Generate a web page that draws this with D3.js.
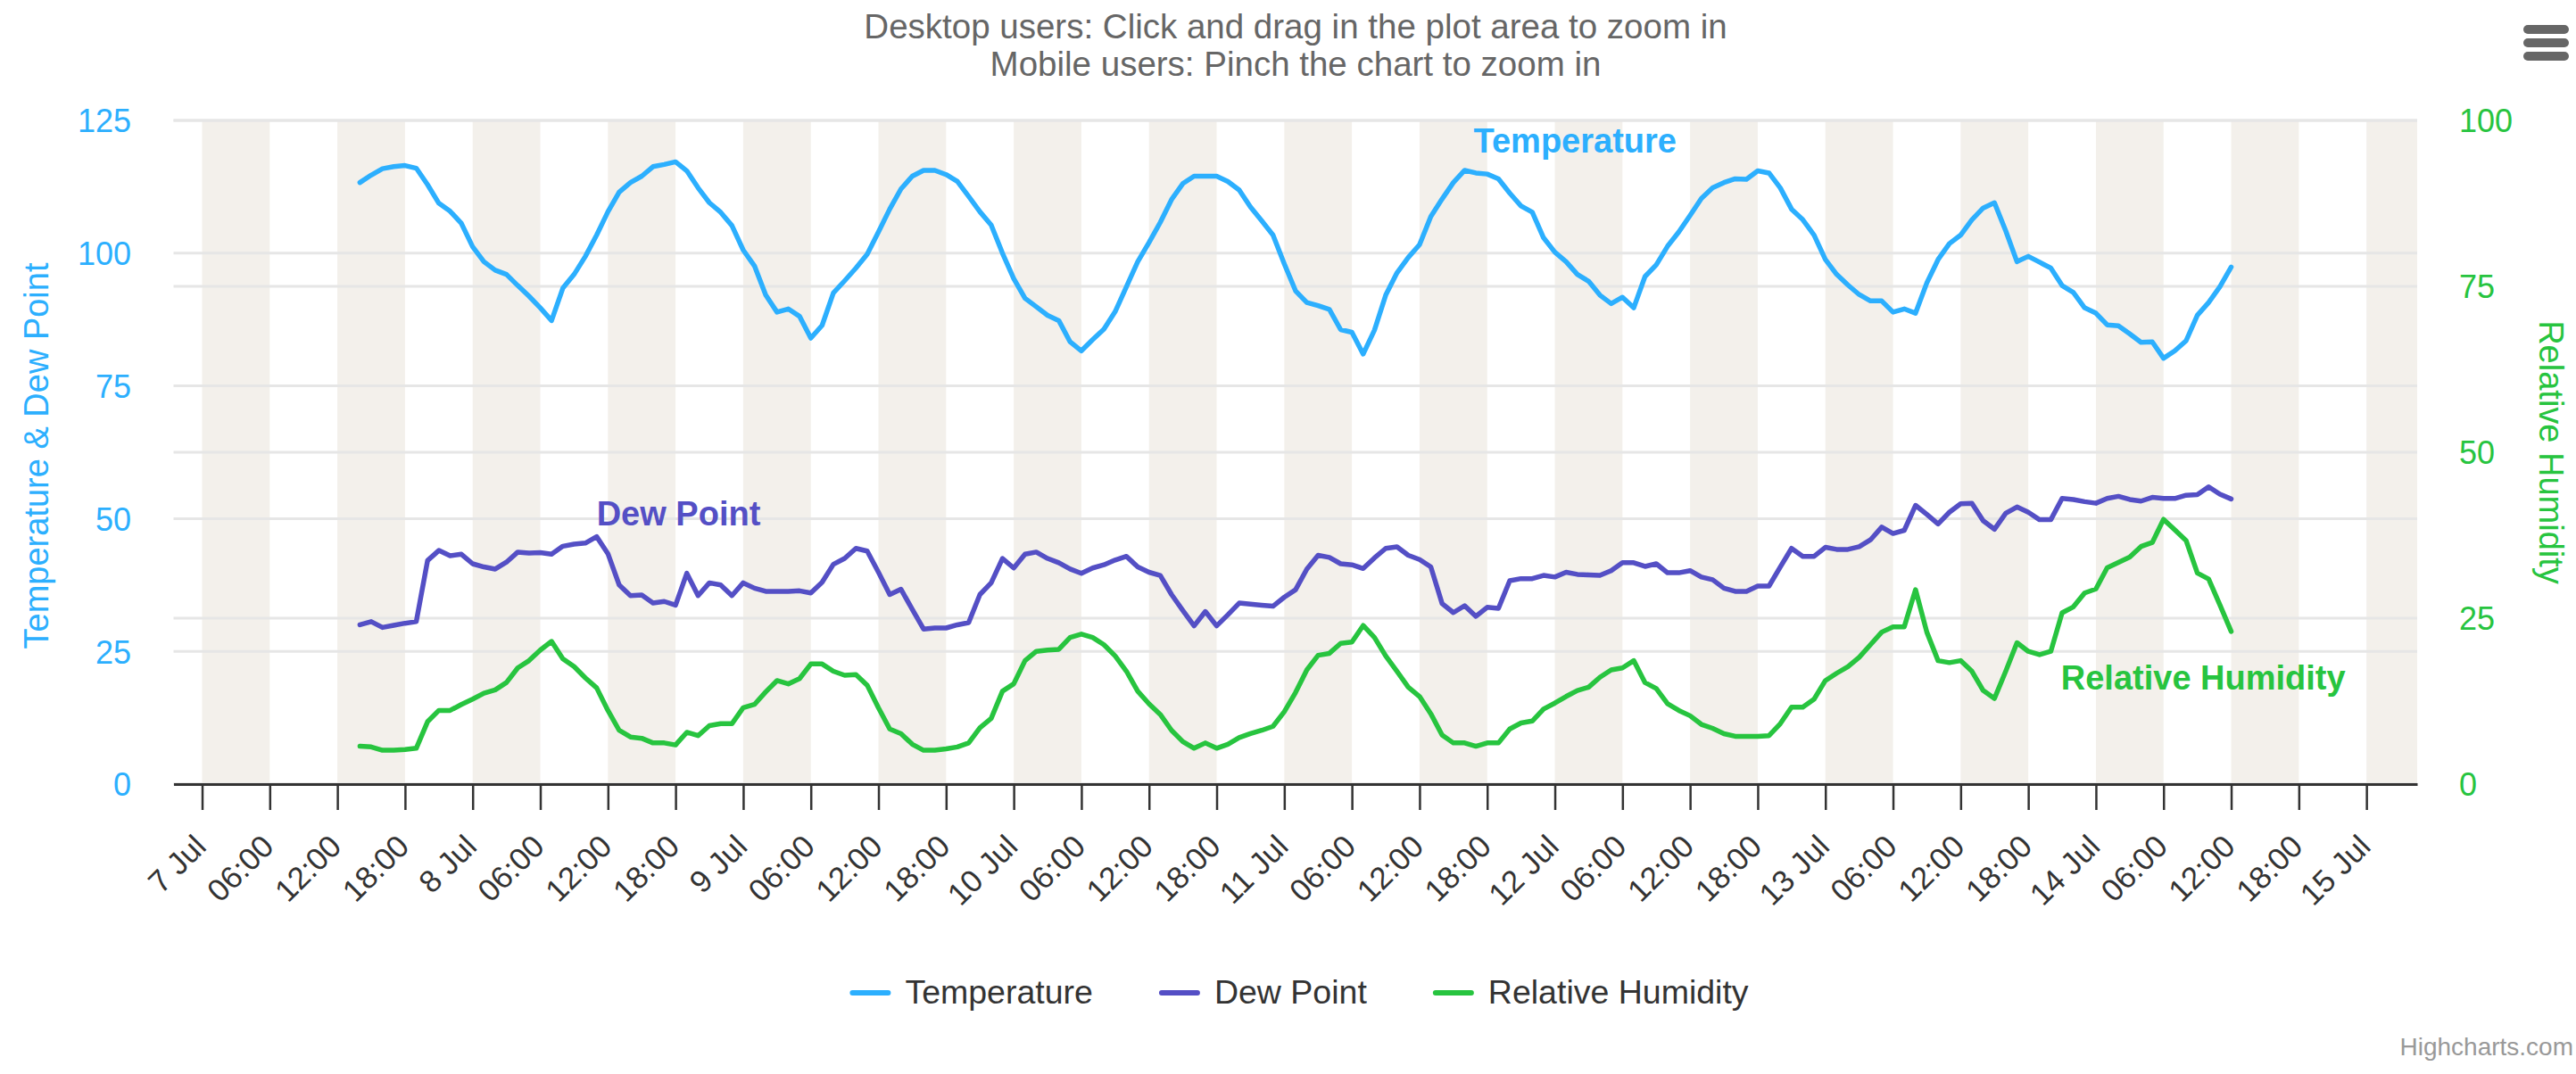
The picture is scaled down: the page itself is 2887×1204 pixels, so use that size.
<!DOCTYPE html>
<html>
<head>
<meta charset="utf-8">
<script src="https://cdn.jsdelivr.net/npm/d3@7"></script>
<style>
  html, body { margin: 0; padding: 0; background: #fff; }
  svg { display: block; font-family: "Liberation Sans", Arial, Helvetica, sans-serif; }
</style>
</head>
<body>
<svg id="chart" width="2887" height="1204"></svg>
<script>
// hourly readings, first one at 7 Jul 14:00
var startTime = Date.UTC(2024, 6, 7, 14);

var temperature = [
  113.3, 114.7, 115.9, 116.3, 116.5, 116.0, 112.9, 109.4, 107.9, 105.6,
  101.2, 98.4, 96.8, 96.0, 93.9, 91.9, 89.7, 87.3, 93.4, 96.0, 99.4, 103.4,
  107.8, 111.5, 113.3, 114.5, 116.3, 116.7, 117.2, 115.5, 112.3, 109.5, 107.7, 105.2,
  100.6, 97.6, 92.1, 88.9, 89.5, 88.1, 84.0, 86.4, 92.5, 94.8, 97.2, 99.8,
  104.0, 108.3, 112.1, 114.5, 115.6, 115.6, 114.8, 113.5, 110.7, 107.8, 105.3, 100.0,
  95.2, 91.5, 89.9, 88.3, 87.3, 83.3, 81.6, 83.7, 85.7, 89.0, 93.7, 98.4,
  102.0, 105.8, 110.1, 113.1, 114.5, 114.5, 114.5, 113.5, 111.9, 108.7, 106.1, 103.4,
  98.0, 92.9, 90.7, 90.1, 89.4, 85.6, 85.1, 81.0, 85.5, 92.1, 96.3, 99.2,
  101.6, 106.9, 110.2, 113.3, 115.6, 115.1, 114.9, 114.0, 111.3, 108.9, 107.7, 102.9,
  100.2, 98.4, 96.0, 94.7, 92.1, 90.5, 91.7, 89.7, 95.6, 97.8, 101.3, 104.0,
  107.1, 110.3, 112.3, 113.3, 114.0, 113.9, 115.5, 115.1, 112.3, 108.3, 106.3, 103.4,
  98.8, 96.0, 94.0, 92.2, 91.0, 91.0, 88.9, 89.5, 88.7, 94.4, 98.8, 101.8,
  103.4, 106.3, 108.5, 109.5, 104.2, 98.4, 99.4, 98.3, 97.2, 93.9, 92.6, 89.7,
  88.7, 86.5, 86.3, 84.8, 83.2, 83.3, 80.2, 81.6, 83.5, 88.3, 90.7, 93.7,
  97.4
];

var dewPoint = [
  30.0, 30.6, 29.5, 29.9, 30.3, 30.6, 42.1, 44.0, 43.0, 43.3,
  41.5, 40.9, 40.5, 41.8, 43.7, 43.5, 43.6, 43.3, 44.8, 45.2, 45.4, 46.6,
  43.4, 37.5, 35.5, 35.6, 34.1, 34.4, 33.7, 39.7, 35.5, 37.9, 37.5, 35.5,
  37.9, 36.9, 36.3, 36.3, 36.3, 36.4, 36.0, 38.0, 41.4, 42.5, 44.4, 43.9,
  39.9, 35.7, 36.7, 32.9, 29.2, 29.4, 29.4, 30.0, 30.4, 35.7, 37.9, 42.5,
  40.7, 43.3, 43.7, 42.5, 41.7, 40.5, 39.7, 40.7, 41.3, 42.2, 42.9, 40.9,
  39.9, 39.3, 35.7, 32.7, 29.8, 32.5, 29.8, 31.9, 34.1, 33.9, 33.7, 33.5,
  35.2, 36.6, 40.5, 43.1, 42.7, 41.5, 41.3, 40.6, 42.6, 44.4, 44.7, 43.1,
  42.3, 40.9, 34.0, 32.3, 33.6, 31.6, 33.3, 33.1, 38.3, 38.7, 38.7, 39.3,
  39.0, 39.9, 39.5, 39.4, 39.3, 40.2, 41.7, 41.7, 41.0, 41.5, 39.8, 39.8,
  40.2, 39.0, 38.5, 36.9, 36.3, 36.3, 37.3, 37.3, 40.9, 44.4, 42.9, 42.9,
  44.6, 44.2, 44.2, 44.7, 46.0, 48.4, 47.2, 47.8, 52.5, 50.8, 49.0, 51.2,
  52.8, 52.9, 49.6, 48.0, 51.0, 52.2, 51.2, 49.8, 49.8, 53.8, 53.6, 53.2,
  52.9, 53.8, 54.2, 53.6, 53.3, 54.0, 53.8, 53.8, 54.4, 54.5, 56.0, 54.6,
  53.7
];

var humidity = [
  5.7, 5.6, 5.1, 5.1, 5.2, 5.4, 9.4, 11.1, 11.1, 12.0,
  12.8, 13.7, 14.2, 15.3, 17.5, 18.6, 20.2, 21.5, 18.9, 17.7, 16.0, 14.5,
  11.1, 8.1, 7.1, 6.9, 6.2, 6.2, 5.9, 7.8, 7.3, 8.8, 9.1, 9.1,
  11.5, 12.0, 13.9, 15.6, 15.1, 15.9, 18.1, 18.1, 17.0, 16.4, 16.5, 14.9,
  11.5, 8.3, 7.6, 6.0, 5.1, 5.1, 5.3, 5.6, 6.2, 8.5, 9.9, 14.0,
  15.1, 18.6, 20.0, 20.2, 20.3, 22.1, 22.6, 22.1, 21.0, 19.3, 17.0, 14.0,
  12.1, 10.5, 8.1, 6.4, 5.4, 6.2, 5.4, 6.0, 7.0, 7.6, 8.1, 8.7,
  10.9, 13.8, 17.2, 19.4, 19.7, 21.2, 21.4, 23.9, 22.1, 19.3, 17.0, 14.6,
  13.2, 10.6, 7.4, 6.2, 6.2, 5.7, 6.2, 6.2, 8.3, 9.2, 9.5, 11.3,
  12.2, 13.2, 14.1, 14.6, 16.1, 17.2, 17.5, 18.6, 15.3, 14.4, 12.1, 11.1,
  10.3, 9.0, 8.4, 7.6, 7.2, 7.2, 7.2, 7.3, 9.1, 11.6, 11.6, 12.8,
  15.6, 16.7, 17.7, 19.1, 21.0, 22.9, 23.7, 23.7, 29.3, 22.9, 18.6, 18.3,
  18.6, 17.0, 14.1, 12.9, 17.0, 21.3, 20.0, 19.5, 20.0, 25.8, 26.7, 28.8,
  29.4, 32.6, 33.4, 34.2, 35.8, 36.4, 39.9, 38.3, 36.7, 31.8, 30.9, 27.0,
  23.0
];

var seriesNames = ["Temperature", "Dew Point", "Relative Humidity"];
var leftTicks = [0, 25, 50, 75, 100, 125];
var rightTicks = [0, 25, 50, 75, 100];
var leftTitle = "Temperature & Dew Point";
var rightTitle = "Relative Humidity";
var subtitle = [
  "Desktop users: Click and drag in the plot area to zoom in",
  "Mobile users: Pinch the chart to zoom in"
];
var credits = "Highcharts.com";

var colors = ["#2caffe", "#544fc5", "#27c43f"];
var plot = { left: 194.5, right: 2709, top: 135, bottom: 879 };

var svg = d3.select("#chart");

var x = d3.scaleUtc()
  .domain([Date.UTC(2024, 6, 6, 21, 28), Date.UTC(2024, 6, 15, 4, 30)])
  .range([plot.left, plot.right]);
var yLeft = d3.scaleLinear().domain([0, 125]).range([plot.bottom, plot.top]);
var yRight = d3.scaleLinear().domain([0, 100]).range([plot.bottom, plot.top]);

var timeAt = function (i) {
  return new Date(startTime + i * 3600 * 1000);
};

// night / midday bands, 6 hours every 12 hours
var bandStarts = d3.utcHour.every(12).range(x.domain()[0], x.domain()[1]);
svg.append("g")
  .selectAll("rect")
  .data(bandStarts)
  .enter()
  .append("rect")
  .attr("x", function (d) { return x(d); })
  .attr("y", plot.top)
  .attr("width", function (d) {
    var end = Math.min(x(d3.utcHour.offset(d, 6)), plot.right);
    return end - x(d);
  })
  .attr("height", plot.bottom - plot.top)
  .attr("fill", "#f3f0eb");

// grid lines from both y axes
var grid = svg.append("g").attr("stroke", "#e6e6e6").attr("stroke-width", 3);
leftTicks.forEach(function (v) {
  grid.append("line")
    .attr("x1", plot.left).attr("x2", plot.right)
    .attr("y1", yLeft(v)).attr("y2", yLeft(v));
});
rightTicks.forEach(function (v) {
  grid.append("line")
    .attr("x1", plot.left).attr("x2", plot.right)
    .attr("y1", yRight(v)).attr("y2", yRight(v));
});

// x axis
var xAxis = d3.axisBottom(x)
  .ticks(d3.utcHour.every(6))
  .tickSize(29)
  .tickSizeOuter(0)
  .tickFormat(function (d) {
    return d.getUTCHours() === 0 ? d3.utcFormat("%-d %b")(d) : d3.utcFormat("%H:%M")(d);
  });

var gx = svg.append("g")
  .attr("transform", "translate(0," + plot.bottom + ")")
  .call(xAxis);
gx.select(".domain").attr("stroke", "#333333").attr("stroke-width", 3);
gx.selectAll(".tick line").attr("stroke", "#333333").attr("stroke-width", 2.5);
gx.selectAll(".tick text")
  .attr("x", 0)
  .attr("y", 0)
  .attr("dy", null)
  .attr("text-anchor", "end")
  .attr("transform", "translate(6,72) rotate(-45)")
  .attr("fill", "#333333")
  .style("font-size", "35px");

// left axis
var gl = svg.append("g")
  .attr("transform", "translate(147,0)")
  .call(d3.axisLeft(yLeft).tickValues(leftTicks).tickSize(0).tickPadding(0));
gl.select(".domain").remove();
gl.selectAll(".tick text")
  .attr("fill", colors[0])
  .attr("dy", "0.36em")
  .style("font-size", "36px");

// right axis
var gr = svg.append("g")
  .attr("transform", "translate(2756,0)")
  .call(d3.axisRight(yRight).tickValues(rightTicks).tickSize(0).tickPadding(0));
gr.select(".domain").remove();
gr.selectAll(".tick text")
  .attr("fill", colors[2])
  .attr("dy", "0.36em")
  .style("font-size", "36px");

// axis titles
svg.append("text")
  .attr("transform", "translate(54," + ((plot.top + plot.bottom) / 2 + 4) + ") rotate(-90)")
  .attr("text-anchor", "middle")
  .attr("fill", colors[0])
  .style("font-size", "38px")
  .text(leftTitle);

svg.append("text")
  .attr("transform", "translate(2846," + (plot.top + plot.bottom) / 2 + ") rotate(90)")
  .attr("text-anchor", "middle")
  .attr("fill", colors[2])
  .style("font-size", "38px")
  .text(rightTitle);

// series
var series = [
  { name: seriesNames[0], values: temperature, y: yLeft, color: colors[0] },
  { name: seriesNames[1], values: dewPoint, y: yLeft, color: colors[1] },
  { name: seriesNames[2], values: humidity, y: yRight, color: colors[2] }
];

series.forEach(function (s) {
  var line = d3.line()
    .x(function (d, i) { return x(timeAt(i)); })
    .y(function (d) { return s.y(d); });
  svg.append("path")
    .datum(s.values)
    .attr("d", line)
    .attr("fill", "none")
    .attr("stroke", s.color)
    .attr("stroke-width", 5.5)
    .attr("stroke-linejoin", "round")
    .attr("stroke-linecap", "round");
});

// series labels, placed in data space next to their lines
var labelAt = [
  [Date.UTC(2024, 6, 11, 16, 48), 118.9],
  [Date.UTC(2024, 6, 8, 11, 0), 48.8],
  [Date.UTC(2024, 6, 13, 20, 54), 14.25]
];
series.forEach(function (s, i) {
  svg.append("text")
    .attr("x", x(labelAt[i][0]))
    .attr("y", s.y(labelAt[i][1]))
    .attr("fill", s.color)
    .style("font-size", "38px")
    .style("font-weight", "bold")
    .text(s.name);
});

// subtitle
svg.append("g")
  .selectAll("text")
  .data(subtitle)
  .enter()
  .append("text")
  .attr("x", 1452)
  .attr("y", function (d, i) { return 43 + i * 42; })
  .attr("text-anchor", "middle")
  .attr("fill", "#666666")
  .style("font-size", "38.5px")
  .text(function (d) { return d; });

// legend
var legend = svg.append("g");
var cursor = 0;
series.forEach(function (s) {
  var item = legend.append("g").attr("transform", "translate(" + cursor + ",0)");
  item.append("line")
    .attr("x1", 3).attr("x2", 43)
    .attr("y1", 1113).attr("y2", 1113)
    .attr("stroke", s.color)
    .attr("stroke-width", 6)
    .attr("stroke-linecap", "round");
  var t = item.append("text")
    .attr("x", 62)
    .attr("y", 1125)
    .attr("fill", "#333333")
    .style("font-size", "37.5px")
    .text(s.name);
  cursor += 62 + t.node().getComputedTextLength() + 74;
});
var legendWidth = cursor - 74;
legend.attr("transform", "translate(" + (1456 - legendWidth / 2) + ",0)");

// exporting menu button
svg.append("g")
  .attr("fill", "#666666")
  .selectAll("rect")
  .data([33, 48, 63])
  .enter()
  .append("rect")
  .attr("x", 2828)
  .attr("y", function (d) { return d - 5; })
  .attr("width", 51)
  .attr("height", 10)
  .attr("rx", 5);

// credits
svg.append("text")
  .attr("x", 2884)
  .attr("y", 1183)
  .attr("text-anchor", "end")
  .attr("fill", "#999999")
  .style("font-size", "28px")
  .text(credits);
</script>
</body>
</html>
